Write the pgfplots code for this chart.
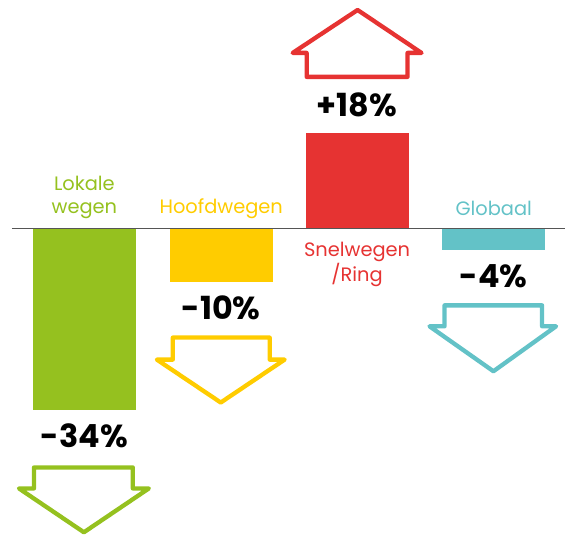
\documentclass[border=0pt]{standalone}
\usepackage{pgfplots}
\pgfplotsset{compat=1.18}
\usepackage{fontspec}
\setmainfont{Poppins}
\definecolor{cgreen}{HTML}{95C11F}
\definecolor{cyellow}{HTML}{FFCC00}
\definecolor{cred}{HTML}{E63332}
\definecolor{cteal}{HTML}{63C2C7}
\definecolor{cline}{HTML}{555555}
\begin{document}
\begin{tikzpicture}
\begin{axis}[
  width=566bp, height=536bp, scale only axis,
  xmin=0, xmax=566, ymin=-57.38, ymax=42.80,
  hide axis, clip=false,
  ybar, bar width=103, bar shift=0pt,
]
\path (rel axis cs:0,0) rectangle (rel axis cs:1,1);
% bars
\addplot[fill=cgreen, draw=none] coordinates {(84.5,-34)};
\addplot[fill=cyellow, draw=none] coordinates {(221.5,-10)};
\addplot[fill=cred, draw=none] coordinates {(357.5,18)};
\addplot[fill=cteal, draw=none] coordinates {(494.3,-4)};
% zero line
\addplot[sharp plot, cline, line width=1.3bp] coordinates {(12,0) (566,0)};
% arrows
\addplot[sharp plot, cgreen, line width=4.3bp, line join=round] coordinates {
  (34,-44.67) (133,-44.67) (133,-48.6) (149,-48.6) (84,-56.8) (19,-48.6) (34,-48.6) (34,-44.67)} -- cycle;
\addplot[sharp plot, cyellow, line width=4.3bp, line join=round] coordinates {
  (173,-20.37) (270,-20.37) (270,-24.49) (285,-24.49) (221,-32.52) (157,-24.49) (173,-24.49) (173,-20.37)} -- cycle;
\addplot[sharp plot, cteal, line width=4.3bp, line join=round] coordinates {
  (445,-14.34) (542.7,-14.34) (542.7,-18.26) (556.7,-18.26) (494,-26.67) (430,-18.26) (445,-18.26) (445,-14.34)} -- cycle;
\addplot[sharp plot, cred, line width=4.3bp, line join=round] coordinates {
  (307,28.41) (408,28.41) (408,32.90) (422,32.90) (358,40.93) (293,32.90) (307,32.90) (307,28.41)} -- cycle;
% category labels
\node[cgreen, align=center, font=\fontsize{19.5}{23}\selectfont] at (axis cs:84.5,5.89) {Lokale\\wegen};
\node[cyellow, font=\fontsize{19.5}{23}\selectfont] at (axis cs:221.5,3.74) {Hoofdwegen};
\node[cred, align=center, font=\fontsize{19.5}{23}\selectfont] at (axis cs:357.5,-6.73) {Snelwegen\\/Ring};
\node[cteal, font=\fontsize{19.5}{23}\selectfont] at (axis cs:494.3,3.74) {Globaal};
% value labels
\node[font=\fontsize{32}{34}\selectfont\bfseries] at (axis cs:84.5,-38.69) {-34\%};
\node[font=\fontsize{32}{34}\selectfont\bfseries] at (axis cs:221.5,-14.77) {-10\%};
\node[font=\fontsize{32}{34}\selectfont\bfseries] at (axis cs:357.5,23.18) {+18\%};
\node[font=\fontsize{32}{34}\selectfont\bfseries] at (axis cs:494.3,-8.97) {-4\%};
\end{axis}
\end{tikzpicture}
\end{document}
